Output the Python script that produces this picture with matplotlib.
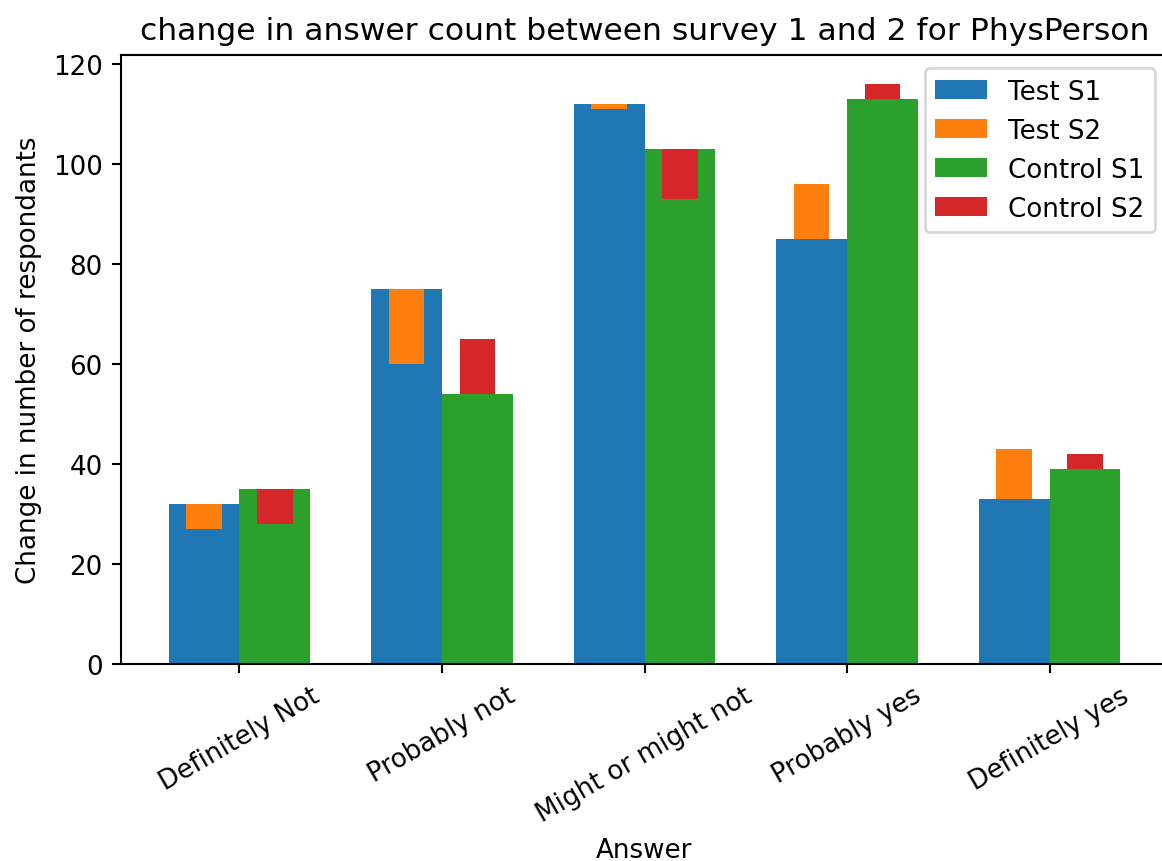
import numpy as np
import matplotlib.pyplot as plt

answers = ["Definitely Not", "Probably not", "Might or might not", "Probably yes", "Definitely yes"]
test_s1 = [32, 75, 112, 85, 33]
test_s2 = [27, 60, 111, 96, 43]
control_s1 = [35, 54, 103, 113, 39]
control_s2 = [28, 65, 93, 116, 42]

x = np.arange(len(answers))
w = 0.35

dpi = 188
fig = plt.figure(figsize=(1162 / dpi, 862 / dpi), dpi=dpi)
ax = fig.add_axes([0.1041, 0.2285, 1.0052 - 0.1041, 0.935 - 0.2285])

ax.bar(x - w / 2, test_s1, w, label="Test S1")
ax.bar(x - w / 2, np.array(test_s2) - np.array(test_s1), w / 2, bottom=test_s1, label="Test S2")
ax.bar(x + w / 2, control_s1, w, label="Control S1")
ax.bar(x + w / 2, np.array(control_s2) - np.array(control_s1), w / 2, bottom=control_s1, label="Control S2")

ax.set_xticks(x)
ax.set_xticklabels(answers, rotation=30)
ax.set_xlabel("Answer")
ax.set_ylabel("Change in number of respondants")
ax.set_title("change in answer count between survey 1 and 2 for PhysPerson")
ax.legend(loc="upper right")

fig.savefig("out.png", dpi=dpi)
